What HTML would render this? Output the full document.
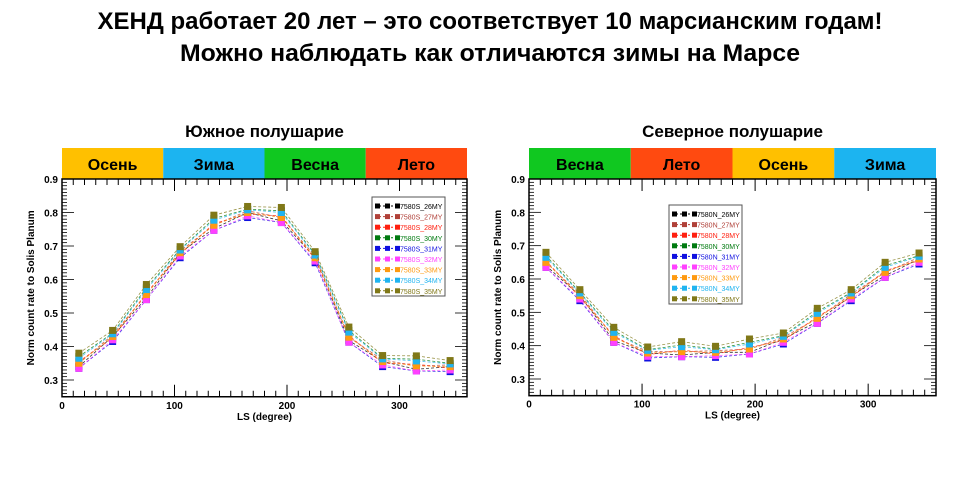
<!DOCTYPE html>
<html><head><meta charset="utf-8"><style>
html,body{margin:0;padding:0;background:#fff;width:980px;height:500px;overflow:hidden}
svg text{font-family:"Liberation Sans","DejaVu Sans",sans-serif}
</style></head><body>
<svg id="s" width="980" height="500" xmlns="http://www.w3.org/2000/svg">
<text x="490" y="29" font-size="24" font-weight="bold" text-anchor="middle" textLength="785" lengthAdjust="spacingAndGlyphs">ХЕНД работает 20 лет – это соответствует 10 марсианским годам!</text>
<text x="490" y="61" font-size="24" font-weight="bold" text-anchor="middle" textLength="620" lengthAdjust="spacingAndGlyphs">Можно наблюдать как отличаются зимы на Марсе</text>
</svg>
<script>
const S=document.getElementById('s');const NS='http://www.w3.org/2000/svg';
function el(t,a,txt){const e=document.createElementNS(NS,t);for(const k in a)e.setAttribute(k,a[k]);if(txt!==undefined)e.textContent=txt;S.appendChild(e);return e;}
const cols=['#000000','#b04038','#ff2010','#007a10','#1010e0','#ff40ff','#ff9a10','#20b4f0','#807818'];
const years=['26MY','27MY','28MY','30MY','31MY','32MY','33MY','34MY','35MY'];
function plot(o){
 const X=v=>o.x0+v*(o.x1-o.x0)/360, Y=v=>o.y09+(0.9-v)*(o.y03-o.y09)/0.6;
 const yb=Y(0.25);
 el('text',{x:(o.x0+o.x1)/2,y:137,'font-size':17,'font-weight':'bold','text-anchor':'middle'},o.title);
 const w=(o.x1-o.x0)/4;
 o.seasons.forEach((s,i)=>{el('rect',{x:o.x0+i*w,y:148,width:w,height:31,fill:s[1]});
  el('text',{x:o.x0+i*w+w/2,y:170,'font-size':16,'font-weight':'bold','text-anchor':'middle'},s[0]);});
 el('rect',{x:o.x0,y:179,width:o.x1-o.x0,height:yb-179,fill:'none',stroke:'#000','stroke-width':1.5});
 for(let v=0;v<=360;v+=10){const x=X(v),L=v%100==0?12:6;
  el('line',{x1:x,y1:yb,x2:x,y2:yb-L,stroke:'#000'});el('line',{x1:x,y1:179,x2:x,y2:179+L,stroke:'#000'});}
 for(let i=0;i<=65;i++){const v=0.25+i*0.01,y=Y(v),L=(Math.round(v*100)%10==0)?12:5;
  el('line',{x1:o.x0,y1:y,x2:o.x0+L,y2:y,stroke:'#000','stroke-width':0.8});el('line',{x1:o.x1,y1:y,x2:o.x1-L,y2:y,stroke:'#000','stroke-width':0.8});}
 for(let v=3;v<=9;v++)el('text',{x:o.x0-4,y:Y(v/10)+4,'font-size':10,'font-weight':'bold','text-anchor':'end'},'0.'+v);
 [0,100,200,300].forEach(v=>el('text',{x:X(v),y:yb+12,'font-size':10,'font-weight':'bold','text-anchor':'middle'},v));
 el('text',{x:(o.x0+o.x1)/2,y:yb+23,'font-size':10,'font-weight':'bold','text-anchor':'middle'},'LS (degree)');
 const cy=(179+yb)/2;
 el('text',{x:o.x0-28,y:cy,'font-size':10,'font-weight':'bold','text-anchor':'middle',transform:`rotate(-90 ${o.x0-28} ${cy})`},'Norm count rate to Solis Planum');
 cols.forEach((c,k)=>{
  const pts=o.base.map((b,i)=>[X(15+30*i),Y(b+o.off[k][i%o.off[k].length])]);
  el('polyline',{points:pts.map(p=>p.join(',')).join(' '),fill:'none',stroke:c,'stroke-width':0.8,'stroke-dasharray':'3,2',opacity:0.8});
  pts.forEach(p=>el('rect',{x:p[0]-3.5,y:p[1]-3.5,width:7,height:7,fill:c}));
 });
 const lx=o.lx,ly=o.ly;
 el('rect',{x:lx,y:ly,width:73,height:99,fill:'#fff',stroke:'#555','stroke-width':1});
 cols.forEach((c,k)=>{const y=ly+9+k*10.6;
  [3,13,23].forEach(d=>el('rect',{x:lx+d,y:y-2.5,width:5,height:5,fill:c}));
  el('line',{x1:lx+3,y1:y,x2:lx+28,y2:y,stroke:c,'stroke-dasharray':'2,2'});
  el('text',{x:lx+28,y:y+3,'font-size':7,fill:c},o.pre+years[k]);});
}
const offL=[[-0.01,0.0],[0,0.005],[0.005,-0.005],[0.02,0.01],[-0.015,-0.015],[-0.015,-0.01],[0.0,0.0],[0.015,0.008],[0.03,0.018]];
plot({x0:62,x1:467,y09:179,y03:380,title:'Южное полушарие',pre:'7580S_',lx:372,ly:197,
 seasons:[['Осень','#ffc000'],['Зима','#1cb4f0'],['Весна','#10c820'],['Лето','#ff4a10']],
 base:[0.35,0.43,0.555,0.68,0.762,0.80,0.785,0.665,0.428,0.355,0.342,0.34],off:offL});
plot({x0:529,x1:936,y09:179,y03:379,title:'Северное полушарие',pre:'7580N_',lx:669,ly:205,
 seasons:[['Весна','#10c820'],['Лето','#ff4a10'],['Осень','#ffc000'],['Зима','#1cb4f0']],
 base:[0.65,0.55,0.425,0.378,0.382,0.38,0.39,0.42,0.482,0.55,0.62,0.66],off:offL});
</script>
</body></html>
